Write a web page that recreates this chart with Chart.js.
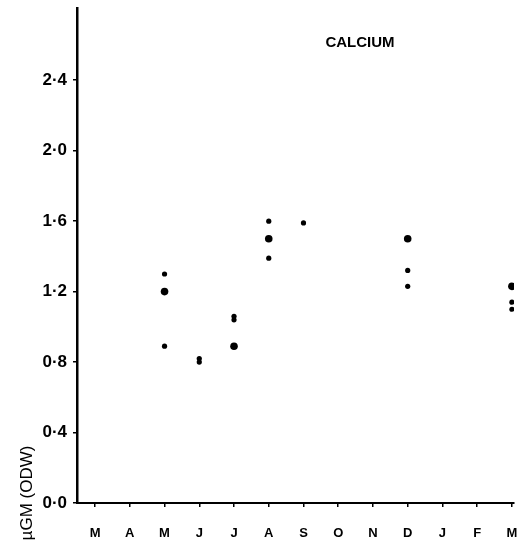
<!DOCTYPE html>
<html>
<head>
<meta charset="utf-8">
<script src="https://cdn.jsdelivr.net/npm/chart.js@4"></script>
<style>
  html, body { margin: 0; padding: 0; background: #fff; }
  #wrap { width: 521px; height: 546px; }
</style>
</head>
<body>
<div id="wrap"><canvas id="chart" width="521" height="546"></canvas></div>
<script>
// months March..March, plotted at index 0..12
const monthLabels = ['M', 'A', 'M', 'J', 'J', 'A', 'S', 'O', 'N', 'D', 'J', 'F', 'M'];
const yTicks = [0, 0.4, 0.8, 1.2, 1.6, 2.0, 2.4];
const yTickLabels = ['0·0', '0·4', '0·8', '1·2', '1·6', '2·0', '2·4'];

// large dots (month index, value)
const bigMonths = [2, 4, 5, 9, 12];
const bigValues = [1.20, 0.89, 1.50, 1.50, 1.23];

// small dots
const smallMonths = [2, 2, 3, 3, 4, 4, 5, 5, 6, 9, 9, 12, 12];
const smallValues = [1.30, 0.89, 0.82, 0.80, 1.06, 1.04, 1.60, 1.39, 1.59, 1.32, 1.23, 1.14, 1.10];

const titleText = 'CALCIUM';
const yTitle = 'µGM (ODW)';

const toPoints = (xs, ys) => xs.map((x, i) => ({ x: x, y: ys[i] }));

const extraText = {
  id: 'extraText',
  afterDraw(chart) {
    const ctx = chart.ctx;
    ctx.save();
    ctx.fillStyle = '#000';
    ctx.font = 'bold 15px Arial, "Liberation Sans", sans-serif';
    ctx.textAlign = 'center';
    ctx.textBaseline = 'middle';
    ctx.fillText(titleText, 360, 43);
    // axis title sits low, next to the 0.0 label
    ctx.translate(27, 493);
    ctx.rotate(-Math.PI / 2);
    ctx.font = '17px Arial, "Liberation Sans", sans-serif';
    ctx.fillText(yTitle, 0, 0);
    ctx.restore();
  }
};

new Chart(document.getElementById('chart'), {
  type: 'scatter',
  data: {
    datasets: [
      {
        data: toPoints(bigMonths, bigValues),
        pointRadius: 3.8,
        backgroundColor: '#000',
        borderColor: '#000',
        borderWidth: 0
      },
      {
        data: toPoints(smallMonths, smallValues),
        pointRadius: 2.6,
        backgroundColor: '#000',
        borderColor: '#000',
        borderWidth: 0
      }
    ]
  },
  options: {
    responsive: false,
    animation: false,
    layout: { padding: { top: 8, right: 7, left: 0, bottom: 0 } },
    plugins: {
      legend: { display: false },
      tooltip: { enabled: false }
    },
    scales: {
      x: {
        type: 'linear',
        min: -0.52,
        max: 12.06,
        afterFit: (scale) => {
          scale.height = 43;
          scale.paddingLeft = 0;
          scale.paddingRight = 0;
        },
        afterBuildTicks: (scale) => { scale.ticks = monthLabels.map((m, i) => ({ value: i })); },
        ticks: {
          color: '#000',
          font: { family: 'Arial, "Liberation Sans", sans-serif', size: 13, weight: 'bold' },
          padding: 19,
          maxRotation: 0,
          autoSkip: false,
          callback: (v) => monthLabels[v]
        },
        grid: { drawOnChartArea: false, drawTicks: true, tickLength: 4, color: '#000', lineWidth: 1.5 },
        border: { display: true, color: '#000', width: 2 }
      },
      y: {
        min: 0,
        max: 2.81,
        afterFit: (scale) => {
          scale.width = 77;
          scale.paddingTop = 0;
          scale.paddingBottom = 0;
        },
        afterBuildTicks: (scale) => { scale.ticks = yTicks.map(v => ({ value: v })); },
        ticks: {
          color: '#000',
          font: { family: 'Arial, "Liberation Sans", sans-serif', size: 17, weight: 'bold' },
          padding: 6,
          autoSkip: false,
          callback: (v, i) => yTickLabels[i]
        },
        grid: { drawOnChartArea: false, drawTicks: true, tickLength: 4, color: '#000', lineWidth: 1.5 },
        border: { display: true, color: '#000', width: 2.5 }
      }
    }
  },
  plugins: [extraText]
});
</script>
</body>
</html>
